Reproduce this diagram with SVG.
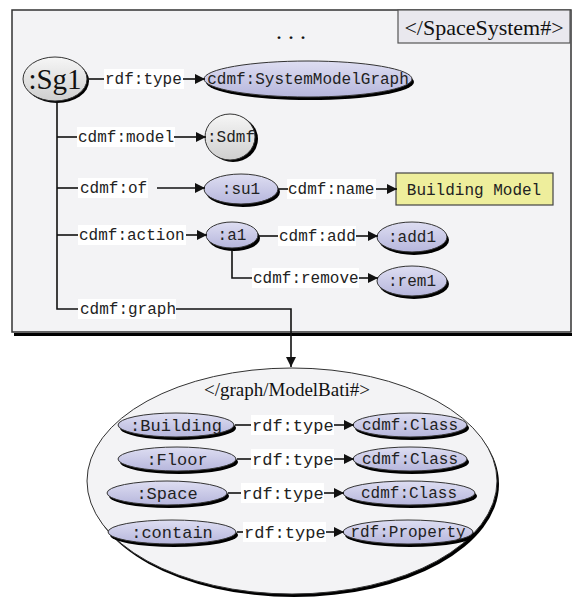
<svg xmlns="http://www.w3.org/2000/svg" width="572" height="599" viewBox="0 0 572 599">
<defs>
<linearGradient id="gp" x1="0" y1="0" x2="0" y2="1"><stop offset="0" stop-color="#dedef2"/><stop offset="1" stop-color="#b6b6dc"/></linearGradient>
<linearGradient id="gg" x1="0" y1="0" x2="0" y2="1"><stop offset="0" stop-color="#f6f6f6"/><stop offset="1" stop-color="#cfcfcf"/></linearGradient>
<marker id="ar" viewBox="0 0 10 10" refX="10" refY="5" markerWidth="10" markerHeight="10" markerUnits="userSpaceOnUse" orient="auto"><path d="M0,0 L10,5 L0,10 z" fill="#111"/></marker>
<style>
.m{font-family:"Liberation Mono","DejaVu Sans Mono",monospace;font-size:16px;fill:#222}
.mb{font-family:"Liberation Mono","DejaVu Sans Mono",monospace;font-size:17px;fill:#222}
.s{font-family:"Liberation Serif","DejaVu Serif",serif;fill:#111}
.c{text-anchor:middle}
.sh{fill:#000}
.p{fill:url(#gp);stroke:#333;stroke-width:1}
.g{fill:url(#gg);stroke:#333;stroke-width:1}
.ln{fill:none;stroke:#111;stroke-width:1.6}
.a{marker-end:url(#ar)}
.bg{fill:#fff}
</style>
</defs>
<g id="space-system">
<rect x="12" y="10" width="559" height="322" fill="#f3f3f5" stroke="#333" stroke-width="1.5"/>
<line x1="14" y1="334.5" x2="572" y2="334.5" stroke="#000" stroke-width="3"/>
<rect x="398" y="10" width="172" height="33" fill="#e9e8ee" stroke="#555" stroke-width="1.2"/>
<text class="s c" x="484" y="35" font-size="22">&lt;/SpaceSystem#&gt;</text>
<text class="s c" x="291" y="39" font-size="24">. . .</text>
</g>
<g id="labels-bg">
<rect class="bg" x="104" y="69" width="80" height="20"/>
<rect class="bg" x="77" y="127" width="98" height="20"/>
<rect class="bg" x="78" y="178" width="70" height="20"/>
<rect class="bg" x="78" y="225" width="108" height="20"/>
<rect class="bg" x="287" y="179" width="89" height="20"/>
<rect class="bg" x="278" y="226" width="78" height="20"/>
<rect class="bg" x="252" y="268" width="107" height="20"/>
<rect class="bg" x="78" y="299" width="98" height="20"/>
</g>
<g id="Sg1">
<ellipse class="sh" cx="57" cy="81" rx="32" ry="22"/>
<ellipse class="g" cx="55" cy="79" rx="32" ry="22"/>
<text class="s c" x="55" y="89" font-size="29">:Sg1</text>
</g>
<g id="rdf-type-label"><text class="m" x="105" y="84">rdf:type</text></g>
<g id="SystemModelGraph">
<ellipse class="sh" cx="310" cy="82" rx="104" ry="18"/>
<ellipse class="p" cx="308" cy="79" rx="104" ry="18"/>
<text class="m c" x="308" y="84">cdmf:SystemModelGraph</text>
</g>
<g id="model-label"><text class="m" x="78" y="142">cdmf:model</text></g>
<g id="Sdmf">
<ellipse class="sh" cx="233" cy="139" rx="25" ry="23"/>
<ellipse class="g" cx="230" cy="137" rx="25" ry="23"/>
<text class="m c" x="231" y="142">:Sdmf</text>
</g>
<g id="of-label"><text class="m" x="80" y="193">cdmf:of</text></g>
<g id="su1">
<ellipse class="sh" cx="243" cy="192" rx="37" ry="15"/>
<ellipse class="p" cx="241" cy="189" rx="37" ry="15"/>
<text class="m c" x="241" y="194">:su1</text>
</g>
<g id="name-label"><text class="m" x="288" y="194">cdmf:name</text></g>
<g id="BuildingModel">
<rect x="396" y="173" width="157" height="32" fill="#eeee9c" stroke="#444" stroke-width="1.2"/>
<text class="m c" x="474" y="195">Building Model</text>
</g>
<g id="action-label"><text class="m" x="79" y="240">cdmf:action</text></g>
<g id="a1">
<ellipse class="sh" cx="234" cy="238" rx="26" ry="13"/>
<ellipse class="p" cx="232" cy="235" rx="26" ry="13"/>
<text class="m c" x="232" y="240">:a1</text>
</g>
<g id="add-label"><text class="m" x="279" y="241">cdmf:add</text></g>
<g id="add1">
<ellipse class="sh" cx="414" cy="240" rx="35" ry="15"/>
<ellipse class="p" cx="412" cy="237" rx="35" ry="15"/>
<text class="m c" x="412" y="242">:add1</text>
</g>
<g id="remove-label"><text class="m" x="253" y="283">cdmf:remove</text></g>
<g id="rem1">
<ellipse class="sh" cx="414" cy="284" rx="35" ry="15"/>
<ellipse class="p" cx="412" cy="281" rx="35" ry="15"/>
<text class="m c" x="412" y="286">:rem1</text>
</g>
<g id="graph-label"><text class="m" x="80" y="314">cdmf:graph</text></g>
<g id="ModelBati">
<ellipse class="sh" cx="294" cy="484" rx="205" ry="113"/>
<ellipse cx="292" cy="481" rx="205" ry="113" fill="#f3f3f5" stroke="#333" stroke-width="1"/>
<text class="s c" x="287" y="396" font-size="19">&lt;/graph/ModelBati#&gt;</text>
</g>
<g id="bottom-labels-bg">
<rect class="bg" x="251" y="415" width="83" height="20"/>
<rect class="bg" x="251" y="449" width="83" height="20"/>
<rect class="bg" x="241" y="483" width="83" height="20"/>
<rect class="bg" x="243" y="522" width="83" height="20"/>
</g>
<g id="Building">
<ellipse class="sh" cx="178" cy="428" rx="58" ry="12"/>
<ellipse class="p" cx="176" cy="425" rx="58" ry="12"/>
<text class="mb c" x="176" y="431">:Building</text>
</g>
<g id="Floor">
<ellipse class="sh" cx="179" cy="462" rx="59" ry="12"/>
<ellipse class="p" cx="177" cy="459" rx="59" ry="12"/>
<text class="mb c" x="177" y="465">:Floor</text>
</g>
<g id="Space">
<ellipse class="sh" cx="169" cy="496" rx="60" ry="12"/>
<ellipse class="p" cx="167" cy="493" rx="60" ry="12"/>
<text class="mb c" x="167" y="499">:Space</text>
</g>
<g id="contain">
<ellipse class="sh" cx="174" cy="535" rx="64" ry="12"/>
<ellipse class="p" cx="172" cy="532" rx="64" ry="12"/>
<text class="mb c" x="172" y="538">:contain</text>
</g>
<g id="bottom-rdf-type-labels">
<text class="mb" x="252" y="431">rdf:type</text>
<text class="mb" x="252" y="465">rdf:type</text>
<text class="mb" x="242" y="499">rdf:type</text>
<text class="mb" x="244" y="538">rdf:type</text>
</g>
<g id="Class1">
<ellipse class="sh" cx="412" cy="428" rx="57" ry="12"/>
<ellipse class="p" cx="410" cy="425" rx="57" ry="12"/>
<text class="m c" x="410" y="430">cdmf:Class</text>
</g>
<g id="Class2">
<ellipse class="sh" cx="412" cy="462" rx="57" ry="12"/>
<ellipse class="p" cx="410" cy="459" rx="57" ry="12"/>
<text class="m c" x="410" y="464">cdmf:Class</text>
</g>
<g id="Class3">
<ellipse class="sh" cx="411" cy="496" rx="66" ry="12"/>
<ellipse class="p" cx="409" cy="493" rx="66" ry="12"/>
<text class="m c" x="409" y="498">cdmf:Class</text>
</g>
<g id="Property">
<ellipse class="sh" cx="410" cy="535" rx="65" ry="12"/>
<ellipse class="p" cx="408" cy="532" rx="65" ry="12"/>
<text class="m c" x="408" y="537">rdf:Property</text>
</g>
<g id="connectors">
<path class="ln" d="M57,103 V309 H78"/>
<line class="ln" x1="57" y1="137" x2="77" y2="137"/>
<line class="ln" x1="57" y1="188" x2="78" y2="188"/>
<line class="ln" x1="57" y1="235" x2="78" y2="235"/>
<line class="ln" x1="88" y1="79" x2="104" y2="79"/>
<line class="ln a" x1="183" y1="79" x2="205" y2="79"/>
<line class="ln a" x1="174" y1="137" x2="206" y2="137"/>
<line class="ln a" x1="157" y1="188" x2="205" y2="188"/>
<line class="ln a" x1="186" y1="235" x2="207" y2="235"/>
<line class="ln" x1="279" y1="189" x2="288" y2="189"/>
<line class="ln a" x1="376" y1="189" x2="397" y2="189"/>
<line class="ln" x1="259" y1="236" x2="278" y2="236"/>
<line class="ln a" x1="356" y1="236" x2="378" y2="236"/>
<path class="ln" d="M232,250 V278 H252"/>
<line class="ln a" x1="359" y1="278" x2="378" y2="278"/>
<path class="ln a" d="M176,309 H291 V367"/>
<line class="ln" x1="235" y1="425" x2="251" y2="425"/>
<line class="ln a" x1="334" y1="425" x2="354" y2="425"/>
<line class="ln" x1="237" y1="459" x2="251" y2="459"/>
<line class="ln a" x1="334" y1="459" x2="354" y2="459"/>
<line class="ln" x1="228" y1="493" x2="241" y2="493"/>
<line class="ln a" x1="324" y1="493" x2="344" y2="493"/>
<line class="ln" x1="237" y1="532" x2="243" y2="532"/>
<line class="ln a" x1="326" y1="532" x2="344" y2="532"/>
</g>
</svg>
